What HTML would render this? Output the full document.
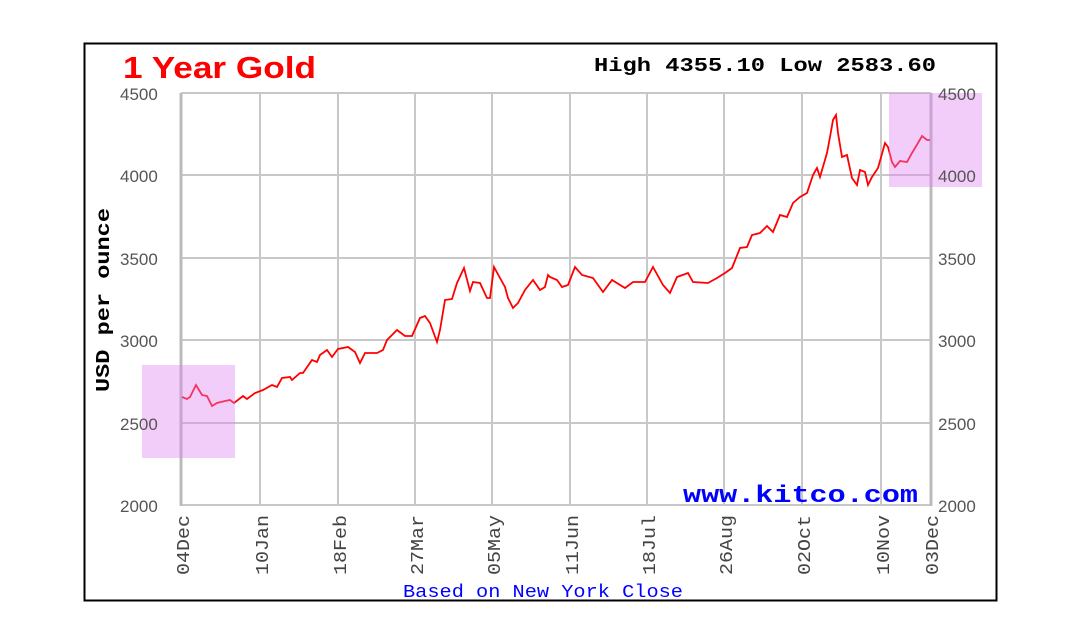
<!DOCTYPE html>
<html><head><meta charset="utf-8"><style>body{margin:0;background:#fff}svg{display:block}</style></head>
<body>
<svg width="1077" height="643" xmlns="http://www.w3.org/2000/svg">
<rect x="0" y="0" width="1077" height="643" fill="#fff"/>
<rect x="84.5" y="43.5" width="912" height="557" fill="#fff" stroke="#000" stroke-width="2"/>
<g stroke="#c8c8c8" stroke-width="2">
<line x1="181" y1="175" x2="931" y2="175"/><line x1="181" y1="258" x2="931" y2="258"/>
<line x1="181" y1="340" x2="931" y2="340"/><line x1="181" y1="423" x2="931" y2="423"/>
<line x1="181" y1="93" x2="931" y2="93"/><line x1="181" y1="505" x2="931" y2="505"/>
<line x1="260" y1="93" x2="260" y2="505"/><line x1="338" y1="93" x2="338" y2="505"/>
<line x1="415" y1="93" x2="415" y2="505"/><line x1="492" y1="93" x2="492" y2="505"/>
<line x1="570" y1="93" x2="570" y2="505"/><line x1="647" y1="93" x2="647" y2="505"/>
<line x1="724" y1="93" x2="724" y2="505"/><line x1="802" y1="93" x2="802" y2="505"/>
<line x1="881" y1="93" x2="881" y2="505"/>
</g>
<line x1="181" y1="93" x2="181" y2="506" stroke="#bbb" stroke-width="3"/>
<line x1="931" y1="93" x2="931" y2="506" stroke="#bbb" stroke-width="3"/>
<polyline fill="none" stroke="#ff0000" stroke-width="1.8" points="182,397 187,399 190,397 196,385 202,395 207,396 212,406 217,403 225,401 230,400 234,403 243,396 247,399 255,393 263,390 272,385 277,387 282,378 290,377 292,380 300,373 303,373 312,360 317,362 320,355 327,350 332,357 338,349 348,347 355,352 360,363 365,353 377,353 383,350 387,340 397,330 405,336 412,336 420,318 425,316 430,323 437,342 440,330 445,300 452,299 457,283 464,268 470,291 473,282 480,283 487,298 490,298 494,267 500,278 505,287 508,298 513,308 518,303 525,290 533,280 540,290 545,287 548,275 550,277 557,280 562,287 568,285 575,267 582,275 593,278 603,292 612,280 625,288 633,282 645,282 653,267 663,285 670,293 677,277 688,273 693,282 708,283 717,278 725,273 732,268 740,248 747,247 752,235 760,233 767,226 773,232 780,215 787,217 793,203 800,197 807,193 813,175 817,168 820,177 827,153 830,137 833,120 836,115 838,133 842,157 847,155 852,178 857,185 860,170 865,172 868,185 872,177 878,168 885,143 888,147 892,162 895,167 900,161 907,162 912,153 918,143 922,136 927,140 930,140"/>
<rect x="142" y="365" width="93" height="93" fill="rgb(225,130,240)" fill-opacity="0.4"/>
<rect x="889" y="93" width="93" height="94" fill="rgb(225,130,240)" fill-opacity="0.4"/>
<text x="123" y="78" font-family="Liberation Sans, sans-serif" font-weight="bold" font-size="31" textLength="193" lengthAdjust="spacingAndGlyphs" fill="#ff0000">1 Year Gold</text>
<text x="594" y="71" font-family="Liberation Mono, monospace" font-weight="bold" font-size="19" textLength="342" lengthAdjust="spacingAndGlyphs" fill="#000">High 4355.10 Low 2583.60</text>
<g font-family="Liberation Sans, sans-serif" font-size="17" fill="#555">
<text x="120" y="100">4500</text><text x="120" y="182">4000</text><text x="120" y="265">3500</text>
<text x="120" y="347">3000</text><text x="120" y="430">2500</text><text x="120" y="512">2000</text>
<text x="938" y="100">4500</text><text x="938" y="182">4000</text><text x="938" y="265">3500</text>
<text x="938" y="347">3000</text><text x="938" y="430">2500</text><text x="938" y="512">2000</text>
</g>
<text transform="translate(109,300) rotate(-90)" text-anchor="middle" font-family="Liberation Mono, monospace" font-weight="bold" font-size="19" textLength="184" lengthAdjust="spacingAndGlyphs" fill="#000">USD per ounce</text>
<g font-family="Liberation Mono, monospace" font-size="18" fill="#444" text-anchor="end">
<text transform="translate(189,515) rotate(-90)" textLength="60" lengthAdjust="spacingAndGlyphs">04Dec</text>
<text transform="translate(268,515) rotate(-90)" textLength="60" lengthAdjust="spacingAndGlyphs">10Jan</text>
<text transform="translate(346,515) rotate(-90)" textLength="60" lengthAdjust="spacingAndGlyphs">18Feb</text>
<text transform="translate(423,515) rotate(-90)" textLength="60" lengthAdjust="spacingAndGlyphs">27Mar</text>
<text transform="translate(500,515) rotate(-90)" textLength="60" lengthAdjust="spacingAndGlyphs">05May</text>
<text transform="translate(578,515) rotate(-90)" textLength="60" lengthAdjust="spacingAndGlyphs">11Jun</text>
<text transform="translate(655,515) rotate(-90)" textLength="60" lengthAdjust="spacingAndGlyphs">18Jul</text>
<text transform="translate(732,515) rotate(-90)" textLength="60" lengthAdjust="spacingAndGlyphs">26Aug</text>
<text transform="translate(810,515) rotate(-90)" textLength="60" lengthAdjust="spacingAndGlyphs">02Oct</text>
<text transform="translate(889,515) rotate(-90)" textLength="60" lengthAdjust="spacingAndGlyphs">10Nov</text>
<text transform="translate(938,515) rotate(-90)" textLength="60" lengthAdjust="spacingAndGlyphs">03Dec</text>
</g>
<text x="403" y="597" font-family="Liberation Mono, monospace" font-size="18" textLength="280" lengthAdjust="spacingAndGlyphs" fill="#0000ff">Based on New York Close</text>
<text x="683" y="502" font-family="Liberation Mono, monospace" font-weight="bold" font-size="24" textLength="235" lengthAdjust="spacingAndGlyphs" fill="#0000ff">www.kitco.com</text>
</svg>
</body></html>
